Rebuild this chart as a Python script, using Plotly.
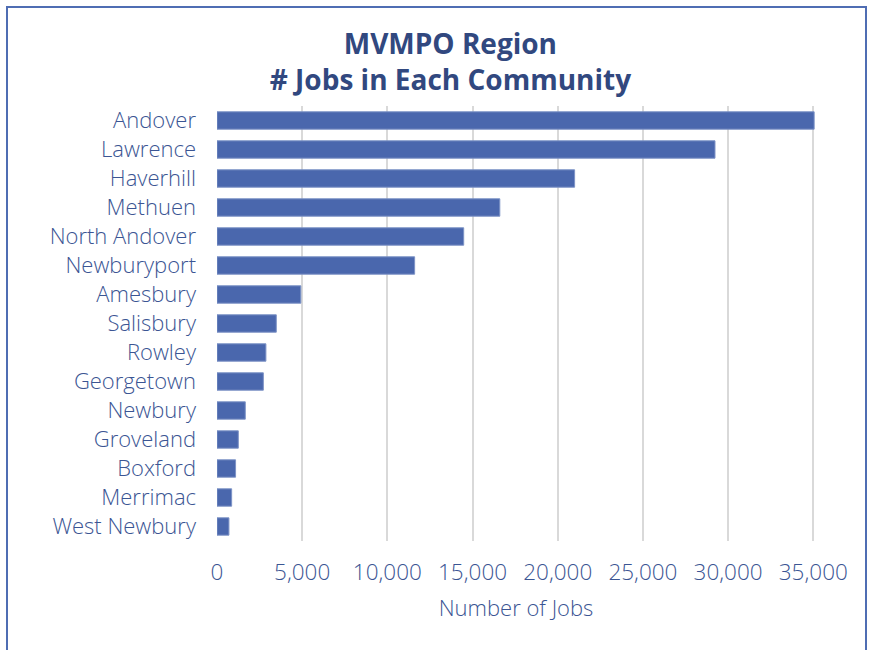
import plotly.graph_objects as go

# Jobs per community in the MVMPO region (top to bottom order)
communities = [
    "Andover", "Lawrence", "Haverhill", "Methuen", "North Andover",
    "Newburyport", "Amesbury", "Salisbury", "Rowley", "Georgetown",
    "Newbury", "Groveland", "Boxford", "Merrimac", "West Newbury",
]
jobs = [35050, 29230, 20990, 16600, 14480, 11600, 4920, 3480, 2870, 2720,
        1660, 1250, 1090, 860, 700]
x_ticks = [0, 5000, 10000, 15000, 20000, 25000, 30000, 35000]
x_tick_text = ["0", "5,000", "10,000", "15,000", "20,000", "25,000", "30,000", "35,000"]

BAR = "#4a67ad"
TEXT = "#3b5593"
TITLE = "#31487f"
FONT = "Open Sans, Lato, sans-serif"

fig = go.Figure(go.Bar(
    x=jobs,
    y=communities,
    orientation="h",
    marker=dict(color=BAR, line=dict(color="#7d93c6", width=1)),
))

# chart frame (left, top, right edges visible)
L, R, T, B = 217, 815, 106, 541
def px_x(p):
    return (p - L) / (R - L)
def px_y(p):
    return (B - p) / (B - T)

fig.add_shape(type="path", xref="paper", yref="paper",
              path=f"M {px_x(7)},{px_y(700)} L {px_x(7)},{px_y(7)} L {px_x(866)},{px_y(7)} L {px_x(866)},{px_y(700)}",
              line=dict(color="#4f6db3", width=2))

fig.update_layout(
    width=869, height=650,
    margin=dict(l=L, r=869 - R, t=T, b=650 - B),
    paper_bgcolor="white",
    plot_bgcolor="white",
    bargap=0.4,
    showlegend=False,
    font=dict(family=FONT, color=TEXT),
    title=dict(
        text="MVMPO Region<br># Jobs in Each Community",
        x=0.5183, xanchor="center",
        y=1 - 54 / 650, yanchor="middle",
        font=dict(family=FONT, size=28, color=TITLE, weight="bold"),
    ),
    xaxis=dict(
        range=[0, 35100],
        tickvals=x_ticks,
        ticktext=x_tick_text,
        showgrid=True, gridcolor="#d9d9d9", gridwidth=2,
        zeroline=False,
        showline=False,
        tickfont=dict(size=22.5, color=TEXT, weight=300),
        ticklabelstandoff=15,
        title=dict(text="Number of Jobs", font=dict(size=22, color=TEXT, weight=300), standoff=15),
        fixedrange=True,
    ),
    yaxis=dict(
        autorange="reversed",
        showgrid=False,
        showline=False,
        tickfont=dict(size=22, color=TEXT, weight=300),
        ticklabelstandoff=20,
        fixedrange=True,
    ),
)

fig.write_html("out.html")
